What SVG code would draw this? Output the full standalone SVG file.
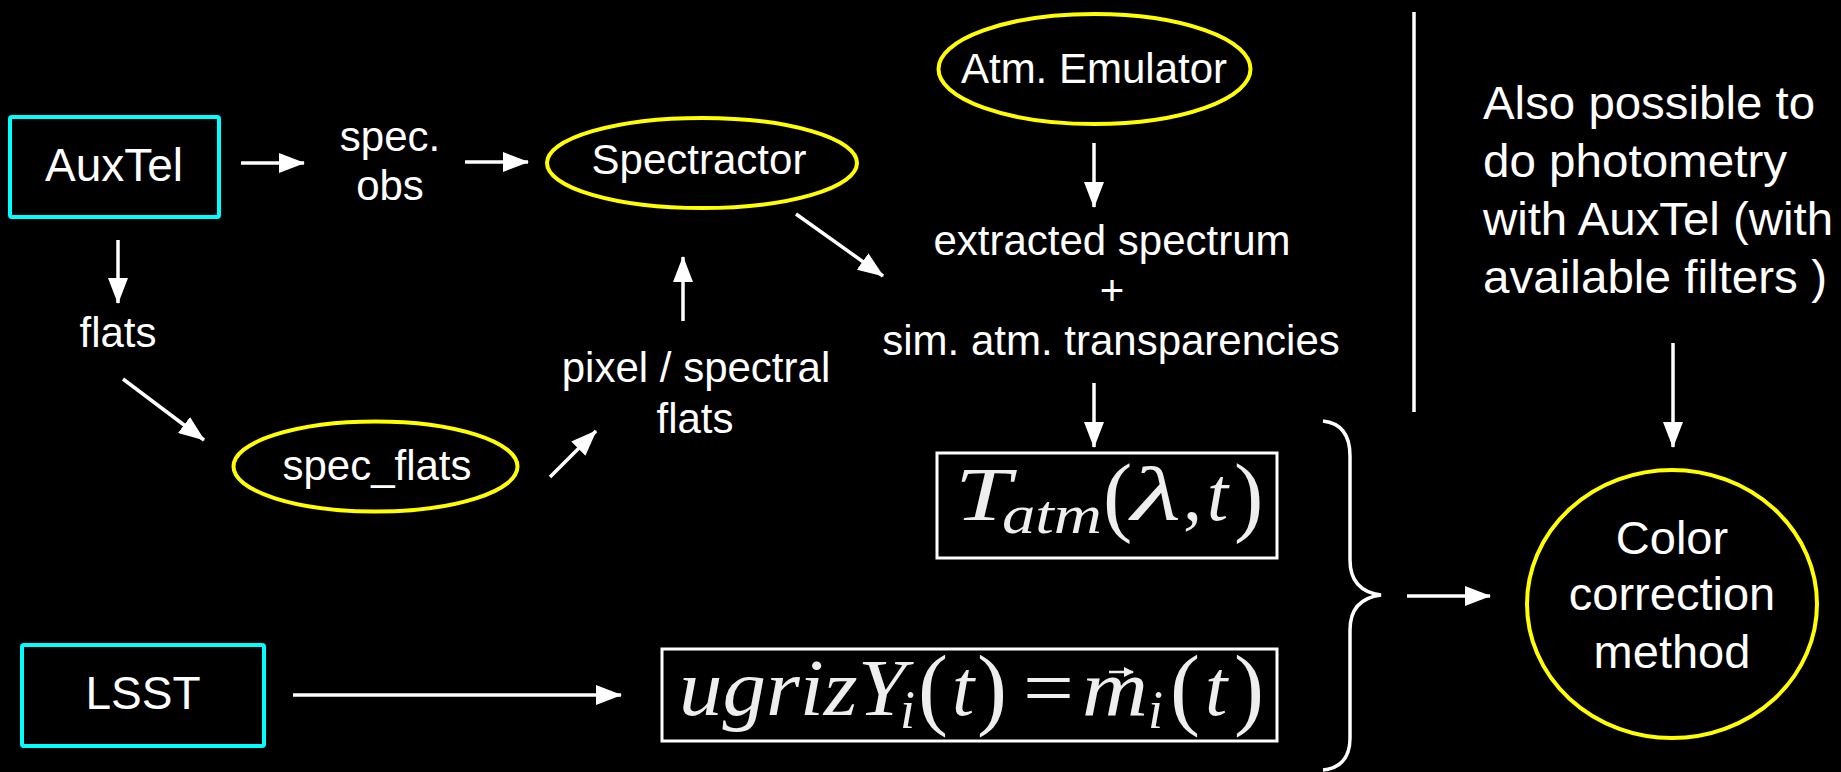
<svg xmlns="http://www.w3.org/2000/svg" width="1841" height="772" viewBox="0 0 1841 772">
<style>
.bg{fill:#000}
.box{fill:#000;stroke:#00ffff;stroke-width:4}
.ell{fill:#000;stroke:#ffff00;stroke-width:4}
.mbox{fill:#000;stroke:#ffffff;stroke-width:3}
.t{font-family:"Liberation Sans",Arial,sans-serif;fill:#fff;text-anchor:middle}
.t42{font-size:42px}
.t46{font-size:46px}
.t47{font-size:47px}
.tl{font-family:"Liberation Sans",Arial,sans-serif;fill:#fff;font-size:47px}
.m{font-family:"Liberation Serif","Times New Roman",serif;fill:#eeeeee;font-style:italic}
.mu{font-family:"Liberation Serif","Times New Roman",serif;fill:#eeeeee}
.c{stroke:#fff;stroke-width:3.5;fill:none}
</style>
<defs>
<marker id="ah" markerUnits="userSpaceOnUse" markerWidth="26" markerHeight="20" refX="25" refY="10" orient="auto">
<path d="M0,0 L26,10 L0,20 z" fill="#fff"/>
</marker>
<marker id="vh" markerUnits="userSpaceOnUse" markerWidth="10" markerHeight="10" refX="9" refY="5" orient="auto">
<path d="M0,0 L10,5 L0,10 z" fill="#eee"/>
</marker>
</defs>
<rect class="bg" x="0" y="0" width="1841" height="772"/>

<g id="connectors">
<line class="c" x1="241" y1="163" x2="304" y2="163" marker-end="url(#ah)"/>
<line class="c" x1="465" y1="162" x2="528" y2="162" marker-end="url(#ah)"/>
<line class="c" x1="118" y1="240" x2="118" y2="303" marker-end="url(#ah)"/>
<line class="c" x1="123" y1="379" x2="204" y2="440" marker-end="url(#ah)"/>
<line class="c" x1="550" y1="477" x2="596" y2="431" marker-end="url(#ah)"/>
<line class="c" x1="683" y1="321" x2="683" y2="257" marker-end="url(#ah)"/>
<line class="c" x1="796" y1="214" x2="883" y2="276" marker-end="url(#ah)"/>
<line class="c" x1="1094" y1="143" x2="1094" y2="207" marker-end="url(#ah)"/>
<line class="c" x1="1094" y1="383" x2="1094" y2="447" marker-end="url(#ah)"/>
<line class="c" x1="293" y1="695" x2="621" y2="695" marker-end="url(#ah)"/>
<line class="c" x1="1407" y1="596" x2="1490" y2="596" marker-end="url(#ah)"/>
<line class="c" x1="1673" y1="343" x2="1673" y2="447" marker-end="url(#ah)"/>
<line class="c" x1="1414" y1="12" x2="1414" y2="412" stroke-width="4"/>
<path class="c" d="M1323,421 Q1350,424 1350,456 L1350,560 Q1350,591 1381,595 Q1350,599 1350,630 L1350,738 Q1350,767 1323,770"/>
</g>

<g id="auxtel">
<rect class="box" x="10" y="117" width="209" height="100" rx="2"/>
<text class="t t46" x="114" y="181">AuxTel</text>
</g>

<g id="spec-obs">
<text class="t t42" x="390" y="151">spec.</text>
<text class="t t42" x="390" y="200">obs</text>
</g>

<g id="spectractor">
<ellipse class="ell" cx="702" cy="163" rx="155" ry="45"/>
<text class="t t42" x="699" y="174">Spectractor</text>
</g>

<g id="atm-emulator">
<ellipse class="ell" cx="1094.5" cy="69" rx="156" ry="55"/>
<text class="t t42" x="1094" y="83">Atm. Emulator</text>
</g>

<g id="flats">
<text class="t t42" x="118" y="347">flats</text>
</g>

<g id="spec-flats">
<ellipse class="ell" cx="375.5" cy="466.5" rx="142" ry="45"/>
<text class="t t42" x="377" y="480">spec_flats</text>
</g>

<g id="pixel-flats">
<text class="t t42" x="696" y="382">pixel / spectral</text>
<text class="t t42" x="695" y="433">flats</text>
</g>

<g id="extracted">
<text class="t t42" x="1112" y="255">extracted spectrum</text>
<text class="t t42" x="1112" y="305">+</text>
<text class="t t42" x="1111" y="355">sim. atm. transparencies</text>
</g>

<g id="tatm">
<rect class="mbox" x="937" y="453" width="340" height="105"/>
<text class="m" x="955" y="520" font-size="76" textLength="56" lengthAdjust="spacingAndGlyphs">T</text>
<text class="m" x="1002" y="533" font-size="54" textLength="100" lengthAdjust="spacingAndGlyphs">atm</text>
<text class="mu" x="1103" y="525" font-size="88">(</text>
<text class="m" x="1131" y="520" font-size="76" textLength="50" lengthAdjust="spacingAndGlyphs">λ</text>
<text class="mu" x="1183" y="520" font-size="76">,</text>
<text class="m" x="1207" y="520" font-size="76">t</text>
<text class="mu" x="1234" y="525" font-size="88">)</text>
</g>

<g id="lsst">
<rect class="box" x="22" y="645" width="242" height="101" rx="2"/>
<text class="t t46" x="143" y="709">LSST</text>
</g>

<g id="ugriz">
<rect class="mbox" x="662" y="649" width="615" height="92"/>
<text class="m" x="679" y="715" font-size="80" textLength="227" lengthAdjust="spacingAndGlyphs">ugrizY</text>
<text class="m" x="900" y="728" font-size="54">i</text>
<text class="mu" x="918" y="718" font-size="90">(</text>
<text class="m" x="952" y="715" font-size="80">t</text>
<text class="mu" x="977" y="718" font-size="90">)</text>
<text class="mu" x="1023" y="715" font-size="80" textLength="51" lengthAdjust="spacingAndGlyphs">=</text>
<text class="m" x="1082" y="715" font-size="80" textLength="66" lengthAdjust="spacingAndGlyphs">m</text>
<line x1="1109" y1="672" x2="1133" y2="672" stroke="#eee" stroke-width="2.5" marker-end="url(#vh)"/>
<text class="m" x="1148" y="728" font-size="54">i</text>
<text class="mu" x="1170" y="718" font-size="90">(</text>
<text class="m" x="1205" y="715" font-size="80">t</text>
<text class="mu" x="1234" y="718" font-size="90">)</text>
</g>

<g id="photometry-note">
<text class="tl" x="1483" y="119" textLength="332" lengthAdjust="spacingAndGlyphs">Also possible to</text>
<text class="tl" x="1483" y="177" textLength="304" lengthAdjust="spacingAndGlyphs">do photometry</text>
<text class="tl" x="1483" y="235" textLength="350" lengthAdjust="spacingAndGlyphs">with AuxTel (with</text>
<text class="tl" x="1483" y="293" textLength="344" lengthAdjust="spacingAndGlyphs">available filters )</text>
</g>

<g id="color-correction">
<ellipse class="ell" cx="1672" cy="604" rx="145" ry="134"/>
<text class="t t47" x="1672" y="554">Color</text>
<text class="t t47" x="1672" y="610">correction</text>
<text class="t t47" x="1672" y="668">method</text>
</g>
</svg>
